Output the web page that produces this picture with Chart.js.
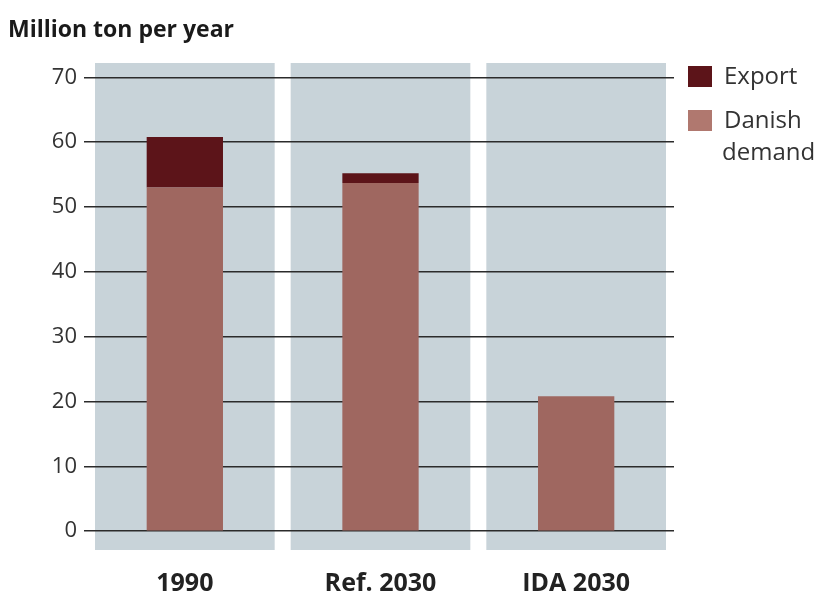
<!DOCTYPE html>
<html>
<head>
<meta charset="utf-8">
<script src="https://cdn.jsdelivr.net/npm/chart.js@4/dist/chart.umd.min.js"></script>
<style>
  html, body { margin: 0; padding: 0; background: #fff; }
  #wrap { width: 824px; height: 612px; position: relative; }
</style>
</head>
<body>
<div id="wrap"><canvas id="grafico" width="824" height="612"></canvas></div>
<script>
// dados
const CATEGORIAS = ['1990', 'Ref. 2030', 'IDA 2030'];
const DEMANDA = [53.0, 53.7, 20.8];
const EXPORTACAO = [7.8, 1.5, 0];
const TICKS_Y = [0, 10, 20, 30, 40, 50, 60, 70];
const TITULO = 'Million ton per year';

const COR_PAINEL = '#c8d3d9';
const COR_DEMANDA = '#9f6760';
const COR_EXPORT = '#5c1419';
const FONTE = '"Open Sans", "DejaVu Sans", sans-serif';

// paineis cinza-azulados atras de cada categoria
const paineis = {
  id: 'paineis',
  beforeDraw(chart) {
    const { ctx, chartArea, scales } = chart;
    const x = scales.x;
    const passo = x.getPixelForValue(1) - x.getPixelForValue(0);
    const meio = passo / 2 - 8;
    ctx.save();
    ctx.fillStyle = COR_PAINEL;
    CATEGORIAS.forEach((c, i) => {
      const cx = x.getPixelForValue(i);
      ctx.fillRect(cx - meio, chartArea.top, meio * 2, chartArea.bottom - chartArea.top);
    });
    ctx.restore();
  },
  afterDraw(chart) {
    const { ctx } = chart;
    ctx.save();
    // titulo
    ctx.fillStyle = '#1a1a1a';
    ctx.font = 'bold 23px ' + FONTE;
    ctx.textBaseline = 'middle';
    ctx.fillText(TITULO, 8, 30);
    // legenda
    const itens = [
      { cor: COR_EXPORT, linhas: ['Export'], y: 77 },
      { cor: '#b0786f', linhas: ['Danish'], y: 121 },
    ];
    ctx.font = '24px ' + FONTE;
    itens.forEach(it => {
      ctx.fillStyle = it.cor;
      ctx.fillRect(688, it.y - 11, 24, 21);
      ctx.fillStyle = '#333';
      it.linhas.forEach(l => ctx.fillText(l, 724, it.y));
    });
    ctx.fillText('demand', 722, 153);
    ctx.restore();
  }
};

new Chart(document.getElementById('grafico'), {
  type: 'bar',
  data: {
    labels: CATEGORIAS,
    datasets: [
      {
        label: 'Danish demand',
        data: DEMANDA,
        backgroundColor: COR_DEMANDA,
        barPercentage: 0.39,
        categoryPercentage: 1
      },
      {
        label: 'Export',
        data: EXPORTACAO,
        backgroundColor: COR_EXPORT,
        barPercentage: 0.39,
        categoryPercentage: 1
      }
    ]
  },
  options: {
    responsive: false,
    animation: false,
    devicePixelRatio: 1,
    layout: { padding: { top: 63, right: 150, bottom: 2, left: 0 } },
    plugins: {
      legend: { display: false },
      tooltip: { enabled: false }
    },
    scales: {
      x: {
        stacked: true,
        grid: { display: false },
        border: { display: false },
        ticks: {
          color: '#222',
          font: { family: FONTE, size: 25, weight: 'bold' },
          padding: 11
        }
      },
      y: {
        stacked: true,
        min: -2.9,
        max: 72.2,
        afterFit(s) { s.width = 87; },
        afterBuildTicks(s) { s.ticks = TICKS_Y.map(v => ({ value: v })); },
        grid: { color: '#2b2b2b', lineWidth: 1.5, tickLength: 3 },
        border: { display: false },
        ticks: {
          color: '#333',
          font: { family: FONTE, size: 22 },
          padding: 7
        }
      }
    }
  },
  plugins: [paineis]
});
</script>
</body>
</html>
